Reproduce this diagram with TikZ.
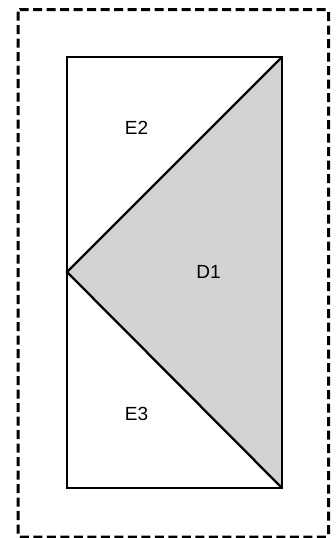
\documentclass[tikz,border=0pt]{standalone}
\usepackage{fontspec}
\setmainfont{Liberation Sans}
\definecolor{regiongray}{RGB}{211,211,211}
\usetikzlibrary{positioning}

\begin{document}
\begin{tikzpicture}[
  x=1pt,y=-1pt,
  every node/.style={font=\fontsize{19}{21}\selectfont},
  outerbox/.style={draw,line width=3pt,dash pattern=on 9pt off 4.5pt,rounded corners=2pt},
  edgeline/.style={draw,line width=2.3pt,line join=miter},
]
  \useasboundingbox (0,0) rectangle (335,538);

  % Outer dashed frame
  \draw[outerbox] (18,9.5) rectangle (328.5,537);

  % Corners of the inner rectangle
  \coordinate (tl) at (67,57);
  \coordinate (tr) at (282,57);
  \coordinate (bl) at (67,488);
  \coordinate (br) at (282,488);
  \coordinate (ml) at (67,272);

  % Shaded region D1
  \fill[regiongray] (tr) -- (ml) -- (br) -- cycle;

  % Inner rectangle and diagonals
  \draw[edgeline] (tl) rectangle (br);
  \draw[edgeline] (tr) -- (ml) -- (br);

  % Region labels
  \node (e2) at (136.5,128) {E2};
  \node (d1) at (208.5,271.5) {D1};
  \node (e3) at (136.5,413.5) {E3};
\end{tikzpicture}
\end{document}
